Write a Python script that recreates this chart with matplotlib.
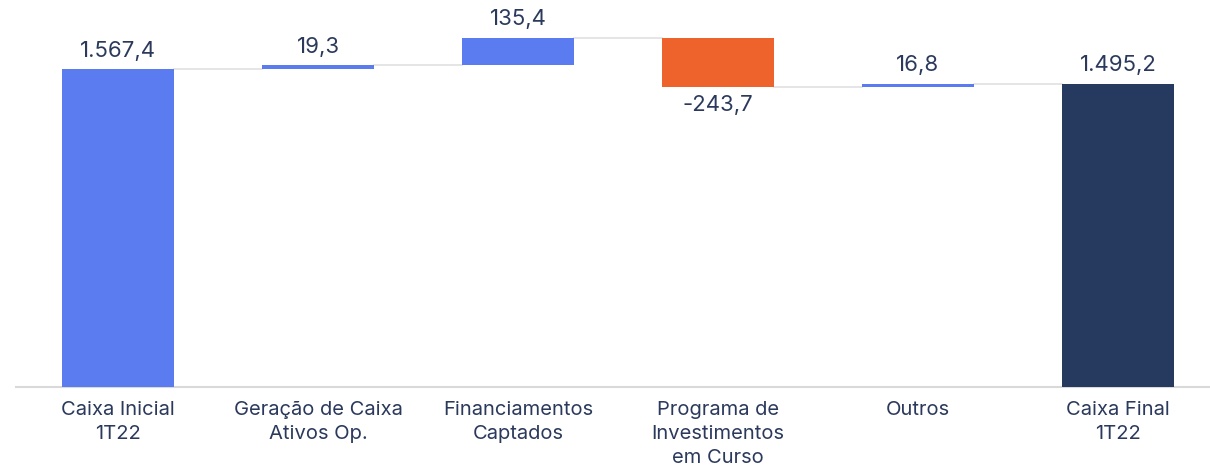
import numpy as np
import matplotlib
matplotlib.use("Agg")
import matplotlib.pyplot as plt

categories = ["Caixa Inicial\n1T22", "Geração de Caixa\nAtivos Op.", "Financiamentos\nCaptados",
              "Programa de\nInvestimentos\nem Curso", "Outros", "Caixa Final\n1T22"]
values = [1567.4, 19.3, 135.4, -243.7, 16.8, 1495.2]
value_labels = ["1.567,4", "19,3", "135,4", "-243,7", "16,8", "1.495,2"]
is_total = [True, False, False, False, False, True]

blue = "#5b7bf0"
orange = "#ee632c"
navy = "#263a60"
text_col = "#2b3a5c"

plt.rcParams['font.family'] = ['Inter', 'DejaVu Sans']

# bottoms / heights of the waterfall
bottoms = []
heights = []
level = 0.0
for v, tot in zip(values, is_total):
    if tot:
        bottoms.append(0.0)
        heights.append(v)
        level = v
    else:
        if v >= 0:
            bottoms.append(level)
        else:
            bottoms.append(level + v)
        heights.append(abs(v))
        level = level + v

colors = []
for v, tot, i in zip(values, is_total, range(len(values))):
    if tot:
        colors.append(navy if i == len(values) - 1 else blue)
    elif v >= 0:
        colors.append(blue)
    else:
        colors.append(orange)

fig = plt.figure(figsize=(12.1, 4.69), dpi=100)
ax = fig.add_axes([16 / 1210, 82 / 469, 1 - 16 / 1210, 387 / 469])

x = np.arange(len(categories))
w = 0.56
ax.bar(x, heights, bottom=bottoms, width=w, color=colors, zorder=3)

# connector lines
level = 0.0
for i in range(len(values) - 1):
    if is_total[i]:
        level = values[i]
    else:
        level = level + values[i]
    ax.plot([x[i] + w / 2, x[i + 1] - w / 2], [level, level], color="#e3e3e3", lw=1.3, zorder=2)

# value labels
for i, v in enumerate(values):
    if v >= 0:
        ax.annotate(value_labels[i], (x[i], bottoms[i] + heights[i]), xytext=(0, 6),
                    textcoords="offset points", ha="center", va="bottom", fontsize=16, color=text_col)
    else:
        ax.annotate(value_labels[i], (x[i], bottoms[i]), xytext=(0, -6),
                    textcoords="offset points", ha="center", va="top", fontsize=16, color=text_col)

ax.set_xlim(-0.51, 5.46)
ax.set_ylim(0, 1907)
ax.set_xticks(x)
ax.set_xticklabels(categories, fontsize=14.5, color=text_col, linespacing=1.45)
ax.tick_params(axis="x", length=0, pad=10)
ax.set_yticks([])
for s in ["top", "right", "left"]:
    ax.spines[s].set_visible(False)
ax.spines["bottom"].set_color("#d9d9d9")
ax.spines["bottom"].set_linewidth(1.5)

fig.savefig("out.png", dpi=100)
